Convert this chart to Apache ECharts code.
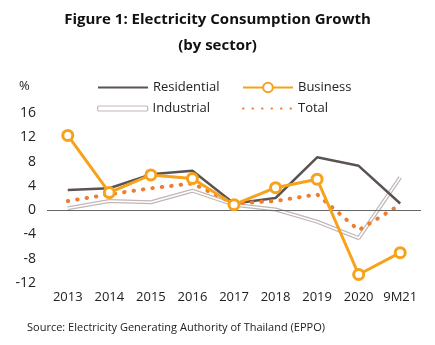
<!DOCTYPE html>
<html>
<head>
<meta charset="utf-8">
<script src="https://cdn.jsdelivr.net/npm/echarts@6/dist/echarts.min.js"></script>
<style>
  html, body { margin: 0; padding: 0; background: #fff; }
  #chart { width: 435px; height: 345px; }
</style>
</head>
<body>
<div id="chart"></div>
<script>
// Annual electricity consumption growth by sector (%)
const categories = ['2013', '2014', '2015', '2016', '2017', '2018', '2019', '2020', '9M21'];
const residential = [3.3, 3.6, 5.9, 6.5, 1.1, 2.0, 8.7, 7.3, 1.1];
const business    = [12.3, 2.9, 5.8, 5.2, 0.9, 3.7, 5.1, -10.6, -7.0];
const industrial  = [0.3, 1.5, 1.3, 3.2, 0.9, 0.1, -1.9, -4.6, 5.4];
const total       = [1.5, 2.6, 3.6, 4.4, 1.1, 1.5, 2.6, -3.3, 0.9];
const yTicks = { min: -12, max: 16, step: 4 };

const FONT = '"Open Sans", "Noto Sans", sans-serif';
const C_RES = '#5b5252';
const C_BUS = '#f7a21b';
const C_IND = '#c2b6b6';
const C_TOT = '#ed7d31';

const chart = echarts.init(document.getElementById('chart'));

function legendAt(name, left, top, extra) {
  return Object.assign({
    data: [name], left: left, top: top,
    itemWidth: 50, itemHeight: 12, itemGap: 7,
    textStyle: { fontFamily: FONT, fontSize: 13, color: '#222' },
    selectedMode: false
  }, extra || {});
}

chart.setOption({
  animation: false,
  title: {
    text: 'Figure 1: Electricity Consumption Growth\n(by sector)',
    left: 'center', top: 2,
    textStyle: { fontFamily: FONT, fontSize: 15, fontWeight: 'bold', color: '#111', lineHeight: 26 }
  },
  legend: [
    legendAt('Residential', 92, 76, { itemStyle: { opacity: 0 } }),
    legendAt('Business', 237, 76),
    legendAt('Industrial', 92, 97, {
      icon: 'roundRect', itemHeight: 5,
      itemStyle: { color: '#fff', borderColor: C_IND, borderWidth: 1.2 }
    }),
    legendAt('Total', 237, 97, { itemStyle: { opacity: 0 } })
  ],
  graphic: [{
    type: 'text', left: 19, top: 80,
    style: { text: '%', font: '13px ' + FONT, fill: '#222' }
  }, {
    type: 'text', left: 27, top: 322,
    style: { text: 'Source: Electricity Generating Authority of Thailand (EPPO)', font: '11px ' + FONT, fill: '#222' }
  }],
  grid: { left: 47, right: 14, top: 113, bottom: 62 },
  xAxis: {
    type: 'category', data: categories, boundaryGap: true,
    axisLine: { show: false, onZero: false }, axisTick: { show: false },
    axisLabel: { fontFamily: FONT, fontSize: 13, color: '#222', margin: 8, interval: 0 }
  },
  yAxis: {
    type: 'value', min: yTicks.min, max: yTicks.max, interval: yTicks.step,
    axisLine: { show: false }, axisTick: { show: false }, splitLine: { show: false },
    axisLabel: { fontFamily: FONT, fontSize: 14, color: '#222', margin: 11 }
  },
  series: [
    {
      name: 'Industrial', type: 'line', data: industrial, symbol: 'none', z: 2,
      lineStyle: { color: C_IND, width: 4 }, itemStyle: { color: C_IND }
    },
    {
      name: 'Industrial-inner', type: 'line', data: industrial, symbol: 'none', z: 2,
      lineStyle: { color: '#fff', width: 1.6 }, silent: true
    },
    {
      name: 'Residential', type: 'line', data: residential, symbol: 'none', z: 3,
      lineStyle: { color: C_RES, width: 2.5 }, itemStyle: { color: C_RES },
      markLine: {
        silent: true, symbol: 'none', label: { show: false },
        lineStyle: { color: '#666', width: 1, type: 'solid' },
        data: [{ yAxis: 0 }]
      }
    },
    {
      name: 'Total', type: 'line', data: total, symbol: 'none', z: 4,
      lineStyle: { color: C_TOT, width: 4, type: [0.5, 9], cap: 'round' },
      itemStyle: { color: C_TOT }
    },
    {
      name: 'Business', type: 'line', data: business, z: 5,
      symbol: 'circle', symbolSize: 10, showAllSymbol: true,
      lineStyle: { color: C_BUS, width: 3 },
      itemStyle: { color: '#fff', borderColor: C_BUS, borderWidth: 3 }
    }
  ]
});
</script>
</body>
</html>
